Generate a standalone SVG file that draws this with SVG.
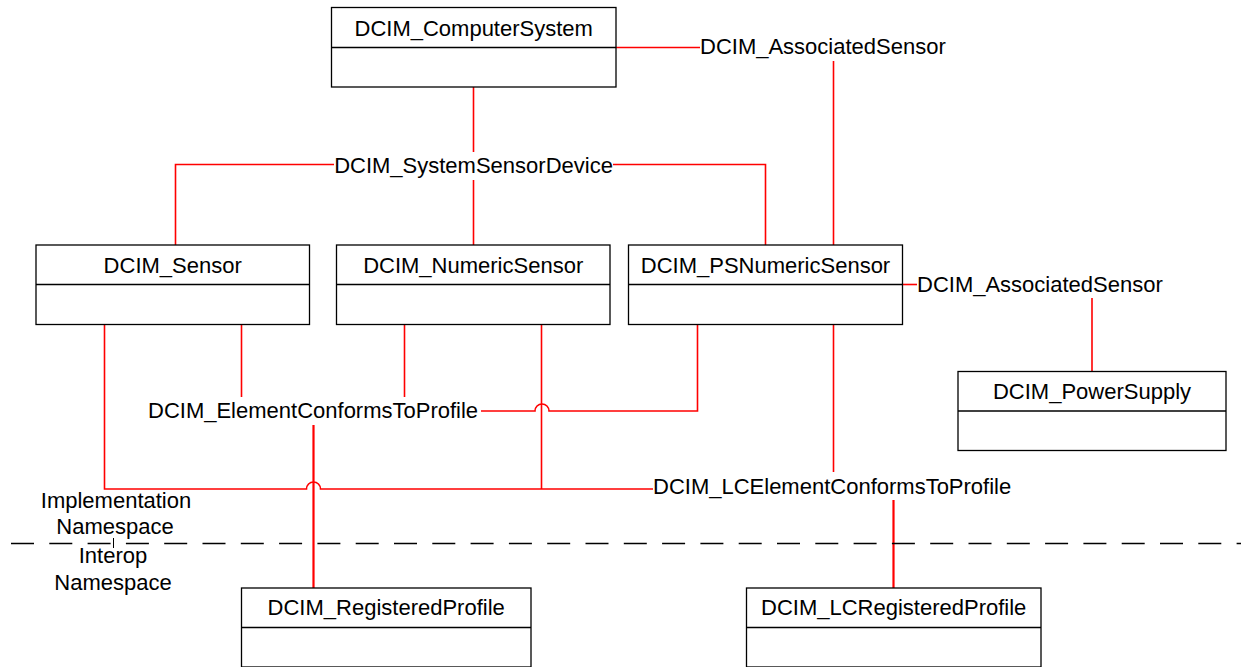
<svg xmlns="http://www.w3.org/2000/svg" width="1241" height="667" viewBox="0 0 1241 667">
<style>
.box{fill:#fff;stroke:#000;stroke-width:1.3}
.div{stroke:#000;stroke-width:1.3}
.t{font-family:"Liberation Sans",Arial,sans-serif;font-size:22px;fill:#000}
.m{text-anchor:middle}
.c{fill:none;stroke:#ff0000;stroke-width:1.6}
.k{stroke-width:2.2}
</style>
<rect width="1241" height="667" fill="#fff"/>
<g id="connectors">
<path class="c" d="M473.5,87 V152"/>
<path class="c" d="M175.5,245 V164.5 H334"/>
<path class="c" d="M613,164.5 H765.5 V245"/>
<path class="c" d="M473.5,180 V245"/>
<path class="c" d="M616,47.5 H700"/>
<path class="c" d="M833.5,61 V245"/>
<path class="c" d="M903,284.5 H917"/>
<path class="c" d="M1092,298 V371"/>
<path class="c" d="M241.5,324 V397"/>
<path class="c" d="M404.5,324 V397"/>
<path class="c" d="M481,411 H535 A7,7 0 0 1 549,411 H697.5 V324"/>
<path class="c k" d="M313.5,425 V588"/>
<path class="c" d="M104.5,324 V489 H306.5 A7,7 0 0 1 320.5,489 H653"/>
<path class="c" d="M541.5,324 V489"/>
<path class="c" d="M833.5,324 V472"/>
<path class="c k" d="M893.5,500 V588"/>
</g>
<g id="label-SystemSensorDevice"><text class="t m" x="473.5" y="172.5">DCIM_SystemSensorDevice</text></g>
<g id="label-AssociatedSensor-top"><text class="t" x="700" y="54">DCIM_AssociatedSensor</text></g>
<g id="label-AssociatedSensor-right"><text class="t" x="917" y="291.5">DCIM_AssociatedSensor</text></g>
<g id="label-ElementConformsToProfile"><text class="t" x="148" y="417.5">DCIM_ElementConformsToProfile</text></g>
<g id="label-LCElementConformsToProfile"><text class="t" x="653" y="494">DCIM_LCElementConformsToProfile</text></g>
<g id="namespace-divider">
<line x1="11" y1="543.5" x2="1241" y2="543.5" stroke="#000" stroke-width="1.3" stroke-dasharray="23 15.3"/>
<line x1="113.5" y1="538" x2="113.5" y2="548" stroke="#000" stroke-width="1"/>
<text class="t m" x="116" y="507.5">Implementation</text>
<text class="t m" x="115" y="533.5">Namespace</text>
<text class="t m" x="113" y="562.5">Interop</text>
<text class="t m" x="113" y="590">Namespace</text>
</g>
<g id="node-ComputerSystem">
<rect class="box" x="331.5" y="7.5" width="284.5" height="79.5"/>
<line class="div" x1="331.5" y1="47.5" x2="616" y2="47.5"/>
<text class="t m" x="473.7" y="35.5">DCIM_ComputerSystem</text>
</g>
<g id="node-Sensor">
<rect class="box" x="36" y="245" width="273.5" height="79.5"/>
<line class="div" x1="36" y1="284.5" x2="309.5" y2="284.5"/>
<text class="t m" x="172.7" y="272.5">DCIM_Sensor</text>
</g>
<g id="node-NumericSensor">
<rect class="box" x="336.5" y="245" width="273.5" height="79.5"/>
<line class="div" x1="336.5" y1="284.5" x2="610" y2="284.5"/>
<text class="t m" x="473.2" y="272.5">DCIM_NumericSensor</text>
</g>
<g id="node-PSNumericSensor">
<rect class="box" x="628.5" y="245" width="274" height="79.5"/>
<line class="div" x1="628.5" y1="284.5" x2="902.5" y2="284.5"/>
<text class="t m" x="765.5" y="272.5">DCIM_PSNumericSensor</text>
</g>
<g id="node-PowerSupply">
<rect class="box" x="958" y="371.5" width="268" height="79"/>
<line class="div" x1="958" y1="411" x2="1226" y2="411"/>
<text class="t m" x="1092" y="398.5">DCIM_PowerSupply</text>
</g>
<g id="node-RegisteredProfile">
<rect class="box" x="241.5" y="588" width="289.5" height="79"/>
<line class="div" x1="241.5" y1="627.5" x2="531" y2="627.5"/>
<text class="t m" x="386.2" y="615">DCIM_RegisteredProfile</text>
</g>
<g id="node-LCRegisteredProfile">
<rect class="box" x="746.5" y="588" width="294.5" height="79"/>
<line class="div" x1="746.5" y1="627.5" x2="1041" y2="627.5"/>
<text class="t m" x="893.7" y="615">DCIM_LCRegisteredProfile</text>
</g>
</svg>
